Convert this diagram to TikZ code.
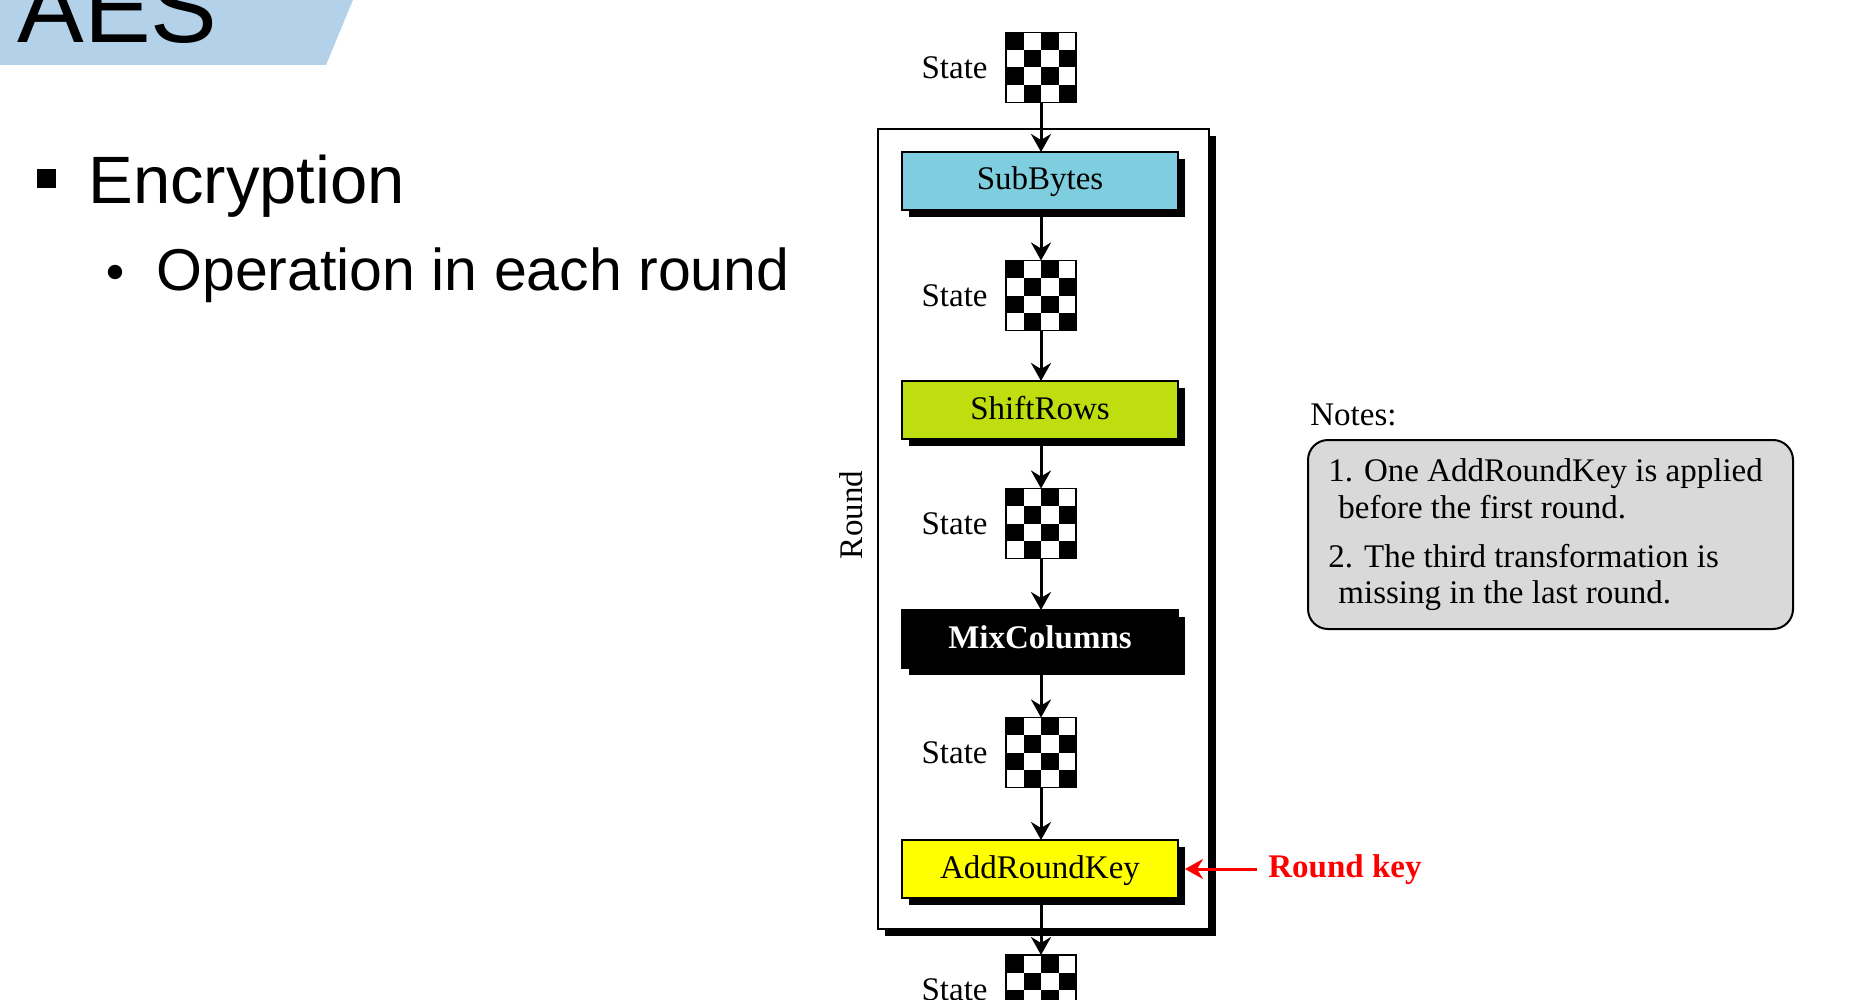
\documentclass[tikz,border=0pt]{standalone}
\usepackage{fontspec}
\setmainfont{Liberation Serif}
\newfontfamily\slidesans{Liberation Sans}
\usetikzlibrary{arrows.meta,shadows,calc}
\definecolor{banner}{RGB}{179,209,232}
\definecolor{subcol}{RGB}{126,206,224}
\definecolor{shiftcol}{RGB}{190,222,16}
\definecolor{addcol}{RGB}{255,255,0}
\definecolor{notegray}{RGB}{217,217,217}
\tikzset{
  shad/.style={drop shadow={shadow xshift=3.5pt, shadow yshift=-3.5pt, fill=black, opacity=1}},
  diagtext/.style={font=\fontsize{16.5pt}{20pt}\selectfont},
  opbox/.style={draw, line width=0.8pt, minimum width=138pt, minimum height=29pt, inner sep=0pt, outer sep=0pt, text height=11pt, text depth=2pt, shad, diagtext},
  checker/.style={draw, line width=0.6pt, minimum size=35pt, inner sep=0pt, outer sep=0pt, fill=white},
  statelbl/.style={diagtext, anchor=east, inner sep=0pt},
  arr/.style={-{Stealth[length=9pt,width=10pt,inset=3pt]}, line width=1.5pt},
  notetext/.style={diagtext, anchor=base west, inner sep=0pt}
}
\begin{document}
\begin{tikzpicture}[x=0.5pt,y=-0.5pt]
\useasboundingbox (0,0) rectangle (1862,1000);
\clip (0,0) rectangle (1862,1000);
% slide title banner
\fill[banner] (0,-5) -- (355,-5) -- (326,65) -- (0,65) -- cycle;
\node[anchor=base west, inner sep=0pt, font=\slidesans\fontsize{50pt}{60pt}\selectfont] (title) at (17,43) {AES};
% bullets
\fill[black] (37,169) rectangle (56,188);
\node[anchor=base west, inner sep=0pt, font=\slidesans\fontsize{33.5pt}{40pt}\selectfont] (enc) at (88,204) {Encryption};
\fill[black] (115,272) circle (3.6pt);
\node[anchor=base west, inner sep=0pt, font=\slidesans\fontsize{29.5pt}{36pt}\selectfont] (op) at (156,291) {Operation in each round};
% round frame
\node[draw, line width=0.8pt, fill=white, shad, minimum width=165.5pt, minimum height=400pt, inner sep=0pt, outer sep=0pt] (frame) at (1043.5,529) {};
\node[diagtext, rotate=90, inner sep=0pt] (roundlbl) at (851,515) {Round};
% states
\node[checker] (s1) at (1041,67.5) {};
\node[checker] (s2) at (1041,295.5) {};
\node[checker] (s3) at (1041,523.5) {};
\node[checker] (s4) at (1041,752.5) {};
\node[checker] (s5) at (1041,990) {};
\foreach \s in {s1,s2,s3,s4,s5}{
  \foreach \i/\j in {0/0,2/0,1/1,3/1,0/2,2/2,1/3,3/3}
    \fill[black] ($(\s.north west)+(\i*17.5,\j*17.5)$) rectangle +(17.5,17.5);
  \draw[line width=0.6pt] (\s.north west) rectangle (\s.south east);
  \node[statelbl] (\s lbl) at ([xshift=-9pt]\s.west) {State};
}
% operation boxes
\node[opbox, fill=subcol] (sub) at (1040,181) {SubBytes};
\node[opbox, fill=shiftcol] (shift) at (1040,410) {ShiftRows};
\node[opbox, fill=black, text=white, font=\bfseries\fontsize{16.5pt}{20pt}\selectfont] (mix) at (1040,639) {MixColumns};
\node[opbox, fill=addcol] (ark) at (1040,869) {AddRoundKey};
% arrows
\draw[arr] (s1.south) -- (s1.south |- sub.north);
\draw[arr] (s1.south |- sub.south) -- (s2.north);
\draw[arr] (s2.south) -- (s2.south |- shift.north);
\draw[arr] (s2.south |- shift.south) -- (s3.north);
\draw[arr] (s3.south) -- (s3.south |- mix.north);
\draw[arr] (s3.south |- mix.south) -- (s4.north);
\draw[arr] (s4.south) -- (s4.south |- ark.north);
\draw[arr] (s4.south |- ark.south) -- (s5.north);
% round key
\coordinate (rkstart) at (1257,869);
\draw[arr, red] (rkstart) -- ([xshift=3.5pt]ark.east);
\node[diagtext, anchor=west, inner sep=0pt, text=red, font=\bfseries\fontsize{16.5pt}{20pt}\selectfont] (rklbl) at (1268,870) {Round key};
% notes
\node[notetext] (noteshead) at (1310,425) {Notes:};
\node[draw, line width=1pt, fill=notegray, rounded corners=10pt, minimum width=242.5pt, minimum height=94.5pt, inner sep=0pt] (notes) at (1550.5,534.5) {};
\node[notetext] (n1a) at (1328,481) {1. One AddRoundKey is applied};
\node[notetext] (n1b) at (1338,518) {before the first round.};
\node[notetext] (n2a) at (1328,567) {2. The third transformation is};
\node[notetext] (n2b) at (1338,603) {missing in the last round.};
\end{tikzpicture}
\end{document}
